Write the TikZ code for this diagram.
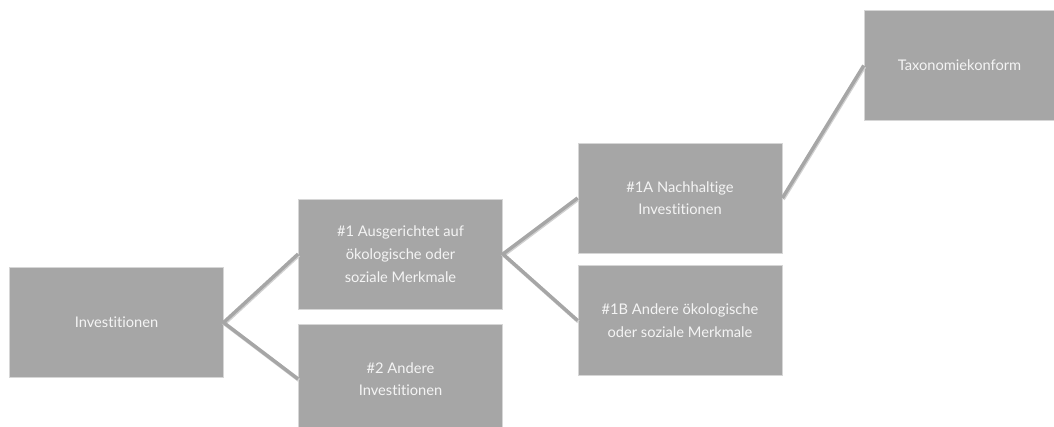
\documentclass[tikz,border=0pt]{standalone}
\usepackage{fontspec}
\setmainfont{Lato}[Ligatures=NoCommon]
\definecolor{boxgray}{HTML}{A6A6A6}
\definecolor{edgegray}{HTML}{D6D6D6}
\definecolor{txtgray}{HTML}{F4F4F4}
\begin{document}
\begin{tikzpicture}[x=0.75pt,y=-0.75pt,
    box/.style={draw=edgegray,line width=0.6pt,fill=boxgray,text=txtgray,align=center,
      font=\fontsize{11}{17}\selectfont,inner sep=0pt,minimum width=#1},
    box/.default=153pt,
    link/.style={draw=boxgray,line width=2.6pt,
      preaction={draw=black!18,line width=2.6pt,transform canvas={shift={(0.6pt,-0.9pt)}}}}]
    \useasboundingbox (0,0) rectangle (1054,426);
    \clip (0,0) rectangle (1054,426);
    \node[box=160pt,minimum height=83pt] (inv) at (116.5,322.5) {Investitionen};
    \node[box,minimum height=82.5pt] (n1) at (400.5,254) {\#1 Ausgerichtet auf\\ökologische oder\\soziale Merkmale};
    \node[box,minimum height=82.5pt] (n2) at (400.5,379) {\#2 Andere\\Investitionen};
    \node[box,minimum height=82.5pt] (n1a) at (680,198) {\#1A Nachhaltige\\Investitionen};
    \node[box,minimum height=83pt] (n1b) at (680,320.5) {\#1B Andere ökologische\\oder soziale Merkmale};
    \node[box=143pt,minimum height=83pt] (tax) at (959.5,65.5) {Taxonomiekonform};
    \draw[link] (n1.west) -- (inv.east) -- (n2.west);
    \draw[link] (n1a.west) -- (n1.east) -- (n1b.west);
    \draw[link] (n1a.east) -- (tax.west);
\end{tikzpicture}
\end{document}
